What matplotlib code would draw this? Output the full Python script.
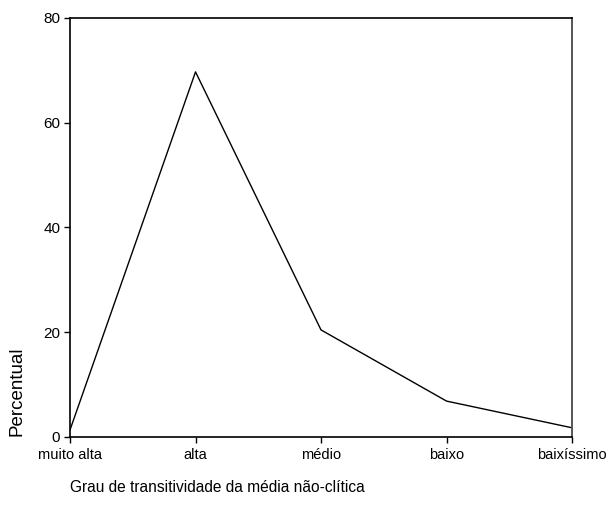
import matplotlib
matplotlib.use("Agg")
import matplotlib.pyplot as plt

categories = ["muito alta", "alta", "médio", "baixo", "baixíssimo"]
percentual = [1.3, 69.7, 20.4, 6.8, 1.7]
y_ticks = [0, 20, 40, 60, 80]

plt.rcParams["font.family"] = ["Liberation Sans", "DejaVu Sans"]

fig = plt.figure(figsize=(6.1, 5.08), dpi=100)
ax = fig.add_axes([0.1148, 0.1404, 0.8229, 0.8242])

x = list(range(len(categories)))
ax.plot(x, percentual, color="black", linewidth=1.0)

ax.set_xlim(0, len(categories) - 1)
ax.set_ylim(0, 80)
ax.set_xticks(x)
ax.set_xticklabels(categories, fontsize=10.5)
ax.set_yticks(y_ticks)
ax.set_yticklabels([str(v) for v in y_ticks], fontsize=11)
ax.tick_params(axis="both", direction="out", length=4, width=1.0, color="black")
ax.tick_params(axis="x", pad=4)
ax.tick_params(axis="y", pad=3)

for side in ["left", "bottom", "top"]:
    ax.spines[side].set_color("black")
    ax.spines[side].set_linewidth(1.2)
ax.spines["right"].set_color("#555555")
ax.spines["right"].set_linewidth(1.4)

# axis titles placed like the original layout
fig.text(70 / 610, 1 - 487 / 508, "Grau de transitividade da média não-clítica",
         fontsize=11.2, ha="left", va="center")
fig.text(17 / 610, 1 - 436 / 508, "Percentual", fontsize=13.5, rotation=90,
         ha="center", va="bottom")

fig.savefig("out.png", dpi=100)
